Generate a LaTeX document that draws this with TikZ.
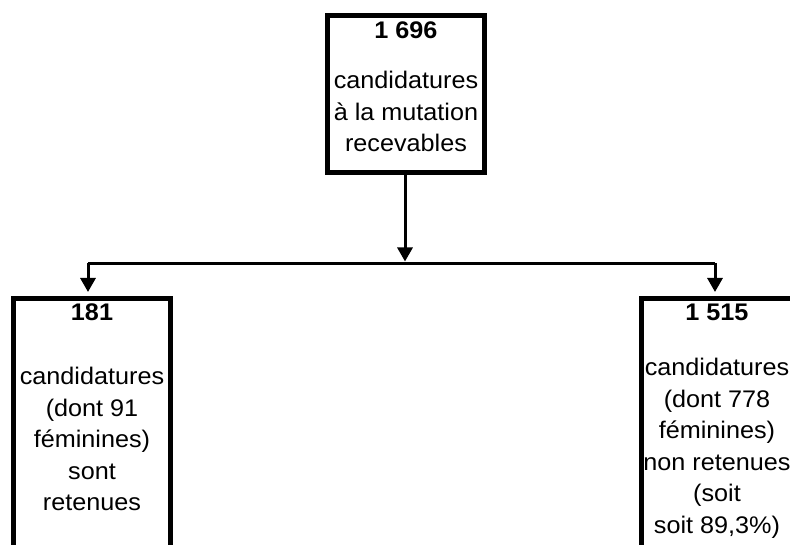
\documentclass[tikz,border=0pt]{standalone}
\usepackage{fontspec}
\newfontfamily\boxfont[FakeStretch=1.05]{Liberation Sans}
\usetikzlibrary{arrows.meta}

\begin{document}
\begin{tikzpicture}[x=1pt,y=1pt,
  box/.style={draw=black,line width=5pt,inner sep=0pt,minimum width=#1},
  boxtxt/.style={align=center,inner sep=0pt,anchor=north,
    font=\boxfont\fontsize{24}{31.5}\selectfont},
  bar/.style={line width=3.5pt},
  arr/.style={line width=3pt,-{Triangle[width=15pt,length=14pt]}}]
\clip (0,0) rectangle (790,-545);
% boxes
\node [box=157pt,minimum height=157pt] (total) at (406,-94) {};
\node [box=157pt,minimum height=321pt] (kept) at (91.5,-459.5) {};
\node [box=151pt,minimum height=321pt] (rejected) at (717,-459.5) {};
% texts
\node [boxtxt] (totaltxt) at (406,-22)
  {\textbf{1 696}\\[18.5pt]candidatures\\à la mutation\\recevables};
\node [boxtxt] (kepttxt) at (92,-304)
  {\textbf{181}\\[32.5pt]candidatures\\(dont 91\\féminines)\\sont\\retenues};
\node [boxtxt] (rejectedtxt) at (717,-304)
  {\textbf{1 515}\\[23.5pt]candidatures\\(dont 778\\féminines)\\non retenues\\(soit\\soit 89,3\%)};
% connectors
\coordinate (split) at (405,-263.5);
\coordinate (leftend) at (88,-263.5);
\coordinate (rightend) at (715,-263.5);
\draw [bar] (leftend) -- (rightend);
\draw [arr] (total.south -| split) -- ([yshift=2pt]split);
\draw [arr,shorten >=4.5pt] (leftend) -- (kept.north -| leftend);
\draw [arr,shorten >=4.5pt] (rightend) -- (rejected.north -| rightend);
\end{tikzpicture}
\end{document}
